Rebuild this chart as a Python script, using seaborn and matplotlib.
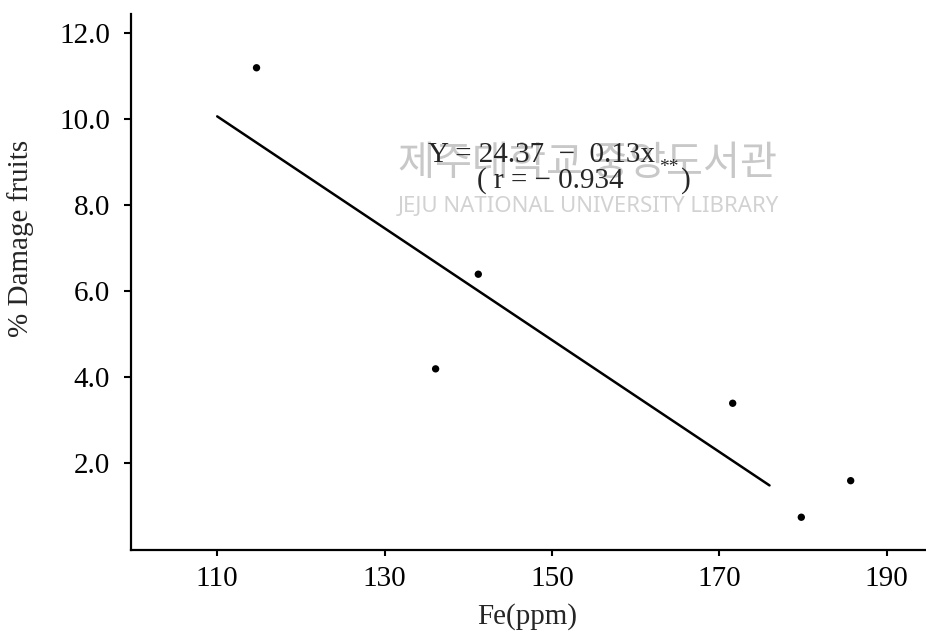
import matplotlib
matplotlib.use("Agg")
import matplotlib.pyplot as plt
import seaborn as sns
import pandas as pd

# data
fe_ppm = [114.7, 136.1, 141.2, 171.6, 179.8, 185.7]
damage = [11.2, 4.2, 6.4, 3.4, 0.75, 1.6]

# published regression Y = 24.37 - 0.13x, drawn over 110..176
intercept = 24.37
slope = -0.13
line_x = [110, 176]

x_ticks = [110, 130, 150, 170, 190]
y_ticks = [2.0, 4.0, 6.0, 8.0, 10.0, 12.0]

sns.set_theme(style="ticks")
plt.rcParams['font.family'] = ['Liberation Serif', 'DejaVu Serif']

df = pd.DataFrame({"Fe": fe_ppm, "Damage": damage})
line_df = pd.DataFrame({"Fe": line_x,
                        "Damage": [intercept + slope * v for v in line_x]})

fig = plt.figure(figsize=(9.26, 6.34), dpi=100)
ax = fig.add_axes([131 / 926, 1 - 549.5 / 634, 1 - 131 / 926, (549.5 - 14) / 634])

# faint library watermark behind the plot
fig.text(398 / 926, 1 - 163 / 634, "제주대학교 중앙도서관", fontsize=29,
         family=['Noto Sans CJK KR', 'DejaVu Sans'], color='#c8c8c8',
         ha='left', va='center', zorder=0)
fig.text(398 / 926, 1 - 206 / 634, "JEJU NATIONAL UNIVERSITY LIBRARY", fontsize=16,
         family=['Noto Sans', 'DejaVu Sans'], color='#d2d2d2',
         ha='left', va='center', zorder=0)
ax.set_facecolor('none')

sns.lineplot(data=line_df, x="Fe", y="Damage", color='black', linewidth=1.8, ax=ax)
sns.scatterplot(data=df, x="Fe", y="Damage", color='black', s=28,
                edgecolor='none', ax=ax, zorder=3)

ax.set_xlim(99.7, 194.7)
ax.set_ylim(0, 12.45)
ax.set_xticks(x_ticks)
ax.set_xticklabels([str(v) for v in x_ticks])
ax.set_yticks(y_ticks)
ax.set_yticklabels([f"{v:.1f}" for v in y_ticks])

for side in ['top', 'right']:
    ax.spines[side].set_visible(False)
for side in ['left', 'bottom']:
    ax.spines[side].set_linewidth(1.6)
    ax.spines[side].set_color('black')

ax.tick_params(axis='y', direction='out', length=5, width=1.5, pad=10,
               labelsize=21, colors='black')
ax.tick_params(axis='x', direction='out', length=4, width=1.5, pad=8,
               labelsize=21, colors='black')

ax.set_xlabel("Fe(ppm)", fontsize=21)
ax.set_ylabel("% Damage fruits", fontsize=21)
ax.xaxis.set_label_coords((527 - 131) / 795, (549.5 - 603) / 535.5)
ax.yaxis.set_label_coords((34 - 131) / 795, (549.5 - 238) / 535.5)

# regression equation, with the ** significance mark between 0.934 and ")"
fig.text(428 / 926, 1 - 155 / 634, "Y = 24.37  −  0.13x", fontsize=21,
         ha='left', va='center')
fig.text(477 / 926, 1 - 181 / 634, "( r = − 0.934", fontsize=21,
         ha='left', va='center')
fig.text(669 / 926, 1 - 167 / 634, "**", fontsize=14, ha='center', va='center')
fig.text(686 / 926, 1 - 181 / 634, ")", fontsize=21, ha='center', va='center')

fig.savefig("out.png", dpi=100)
